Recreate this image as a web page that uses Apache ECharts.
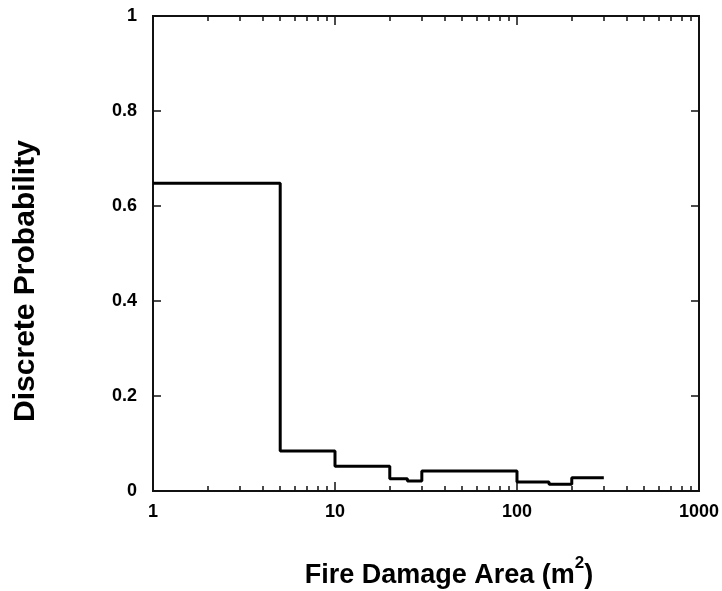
<!DOCTYPE html>
<html>
<head>
<meta charset="utf-8">
<script src="https://cdn.jsdelivr.net/npm/echarts@6/dist/echarts.min.js"></script>
<style>
  html, body { margin: 0; padding: 0; background: #fff; }
  #chart { width: 722px; height: 591px; }
</style>
</head>
<body>
<div id="chart"></div>
<script>
// Bin edges of the fire damage area (m^2) and the probability of each bin
const binEdges = [1, 5, 10, 20, 25, 30, 100, 150, 200, 300];
const probabilities = [0.648, 0.084, 0.052, 0.026, 0.021, 0.042, 0.019, 0.014, 0.028];

// Axis ticks
const xMajorLabels = [1, 10, 100, 1000];
const xMajorTicks = [10, 100];
const xMinorTicks = [2, 3, 4, 5, 6, 7, 8, 9, 20, 30, 40, 50, 60, 70, 80, 90, 200, 300, 400, 500, 600, 700, 800, 900];
const yTicks = [0, 0.2, 0.4, 0.6, 0.8, 1];

// Step line: each bin starts at its left edge, the last level runs to the final edge
const stepData = probabilities.map((p, i) => [binEdges[i], p]);
stepData.push([binEdges[binEdges.length - 1], probabilities[probabilities.length - 1]]);

const FONT = '"Liberation Sans", Arial, sans-serif';
const AXIS_COLOR = '#111';

function xAxisDef(position, tickValues, tickLen, opts) {
  return Object.assign({
    type: 'log',
    logBase: 10,
    min: 1,
    max: 1000,
    position: position,
    axisLine: { show: true, onZero: false, lineStyle: { color: AXIS_COLOR, width: 2 } },
    axisTick: { show: true, inside: true, length: tickLen, customValues: tickValues,
                lineStyle: { color: AXIS_COLOR, width: 1.5 } },
    axisLabel: { show: false },
    splitLine: { show: false },
    minorTick: { show: false }
  }, opts || {});
}

const chart = echarts.init(document.getElementById('chart'), null, { renderer: 'canvas' });

chart.setOption({
  animation: false,
  backgroundColor: '#fff',
  grid: { left: 153, right: 20, top: 16, bottom: 100, containLabel: false },
  xAxis: [
    xAxisDef('bottom', xMajorTicks, 9, {
      axisLabel: {
        show: true, customValues: xMajorLabels, margin: 12,
        color: '#000', fontFamily: FONT, fontWeight: 'bold', fontSize: 18,
        formatter: v => String(v)
      }
    }),
    xAxisDef('bottom', xMinorTicks, 5),
    xAxisDef('top', xMajorTicks, 9),
    xAxisDef('top', xMinorTicks, 5)
  ],
  yAxis: [
    {
      type: 'value', min: 0, max: 1, interval: 0.2, position: 'left',
      axisLine: { show: true, lineStyle: { color: AXIS_COLOR, width: 2 } },
      axisTick: { show: true, inside: true, length: 8, customValues: yTicks,
                  lineStyle: { color: AXIS_COLOR, width: 1.5 } },
      axisLabel: { show: true, customValues: yTicks, margin: 16, color: '#000',
                   fontFamily: FONT, fontWeight: 'bold', fontSize: 18,
                   formatter: v => String(+v.toFixed(1)) },
      splitLine: { show: false }
    },
    {
      type: 'value', min: 0, max: 1, interval: 0.2, position: 'right',
      axisLine: { show: true, lineStyle: { color: AXIS_COLOR, width: 2 } },
      axisTick: { show: true, inside: true, length: 8, customValues: yTicks,
                  lineStyle: { color: AXIS_COLOR, width: 1.5 } },
      axisLabel: { show: false },
      splitLine: { show: false }
    }
  ],
  series: [{
    type: 'line',
    xAxisIndex: 0,
    yAxisIndex: 0,
    step: 'end',
    data: stepData,
    symbol: 'none',
    lineStyle: { color: '#000', width: 3 },
    z: 5
  }],
  graphic: [
    {
      type: 'text',
      x: 449, y: 572,
      style: {
        text: '{t|Fire Damage Area (m}{s|2}{t|)}',
        align: 'center', verticalAlign: 'middle',
        rich: {
          t: { fontFamily: FONT, fontWeight: 'bold', fontSize: 27, lineHeight: 34, verticalAlign: 'bottom', fill: '#000' },
          s: { fontFamily: FONT, fontWeight: 'bold', fontSize: 17, lineHeight: 17, verticalAlign: 'top', fill: '#000' }
        }
      }
    },
    {
      type: 'text',
      x: 26, y: 281,
      rotation: Math.PI / 2,
      style: {
        text: 'Discrete Probability',
        align: 'center', verticalAlign: 'middle',
        fontFamily: FONT, fontWeight: 'bold', fontSize: 30, fill: '#000'
      }
    }
  ]
});
</script>
</body>
</html>
